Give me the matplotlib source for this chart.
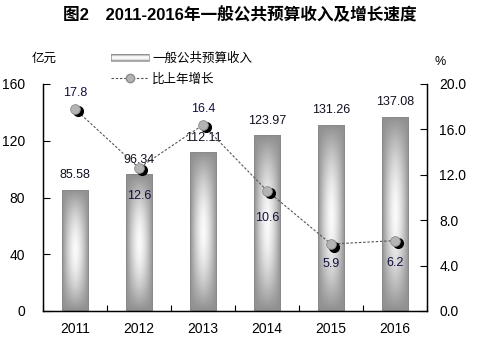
import numpy as np
import matplotlib
matplotlib.use("Agg")
import matplotlib.pyplot as plt
import matplotlib.transforms as mtransforms
from matplotlib.patches import Rectangle
from matplotlib.lines import Line2D
from matplotlib.legend_handler import HandlerBase

plt.rcParams['font.family'] = ['Liberation Sans', 'Noto Sans CJK SC', 'DejaVu Sans']

years = ['2011', '2012', '2013', '2014', '2015', '2016']
revenue = [85.58, 96.34, 112.11, 123.97, 131.26, 137.08]
growth = [17.8, 12.6, 16.4, 10.6, 5.9, 6.2]
left_ticks = [0, 40, 80, 120, 160]
right_ticks = [0.0, 4.0, 8.0, 12.0, 16.0, 20.0]
title = '图2　2011-2016年一般公共预算收入及增长速度'
bar_name = '一般公共预算收入'
line_name = '比上年增长'

# label placement (layout only): vertical offsets in points for growth labels
growth_label_offset = [7, -16, 7, -15, -10, -12]

fig = plt.figure(figsize=(4.8, 3.46), dpi=100)
ax = fig.add_axes([43/480, 1-311/346, 384/480, 227/346])
ax2 = ax.twinx()

x = np.arange(len(years))
bars = ax.bar(x, revenue, width=0.42, facecolor='none', edgecolor='#8a8a8a', linewidth=0.6, zorder=2)

# gradient fill
nx, ny = 64, 128
xx = np.linspace(-1, 1, nx)
yy = np.linspace(-1, 1, ny)
X, Y = np.meshgrid(xx, yy)
hx = np.clip(1 - np.abs(X)**1.6, 0, 1)
hy = np.clip(1 - np.abs(Y)**1.8, 0, 1)
V = 0.56 + 0.42 * hx * hy
for b in bars:
    x0, y0 = b.get_x(), b.get_y()
    w, h = b.get_width(), b.get_height()
    im = ax.imshow(V, cmap='gray', vmin=0, vmax=1, extent=[x0, x0+w, y0, y0+h],
                   aspect='auto', origin='lower', zorder=1, interpolation='bilinear')
    im.set_clip_path(b)

ax.set_xlim(-0.5, len(years)-0.5)
ax.set_ylim(0, 160)
ax2.set_ylim(0, 20)
ax.set_yticks(left_ticks)
ax.set_yticklabels([str(t) for t in left_ticks])
ax2.set_yticks(right_ticks)
ax2.set_yticklabels([f'{t:.1f}' for t in right_ticks])
ax.set_xticks(x)
ax.set_xticklabels(years)
ax.set_xticks(np.arange(len(years)+1) - 0.5, minor=True)

ax.tick_params(axis='y', direction='in', length=5, width=0.8, pad=13, labelsize=10, colors='black')
ax.tick_params(axis='x', which='major', length=0, pad=8, labelsize=10)
ax.tick_params(axis='x', which='minor', direction='in', length=4, width=0.8)
ax2.tick_params(axis='y', direction='in', length=5, width=0.8, pad=9, labelsize=10)
for a in (ax, ax2):
    a.spines['top'].set_visible(False)
    for s in ('left', 'right', 'bottom'):
        a.spines[s].set_linewidth(0.9)

ax.set_zorder(1)
ax2.set_zorder(2)
ax.patch.set_visible(False)

# bar labels
for xi, v in zip(x, revenue):
    ax.annotate(f'{v:.2f}', (xi, v), xytext=(0, 6), textcoords='offset points',
                ha='center', va='bottom', fontsize=9, color='#101020')

# growth line
ax2.plot(x, growth, color='#555555', linestyle=(0, (2.2, 1.6)), linewidth=0.8, zorder=3)
shadow = mtransforms.offset_copy(ax2.transData, fig=fig, x=2.5, y=-2.5, units='dots')
ax2.plot(x, growth, linestyle='none', marker='o', markersize=7, color='black',
         transform=shadow, zorder=4)
ax2.plot(x, growth, linestyle='none', marker='o', markersize=7, markerfacecolor='#b4b4b4',
         markeredgecolor='#8a8a8a', markeredgewidth=0.6, zorder=5)
for xi, g, off in zip(x, growth, growth_label_offset):
    va = 'bottom' if off > 0 else 'top'
    ax2.annotate(f'{g:.1f}', (xi, g), xytext=(0, off), textcoords='offset points',
                 ha='center', va=va, fontsize=9, color='#101040', zorder=6)

# title and units
fig.text(0.5, 1-15/346, title, ha='center', va='center', fontsize=12, fontweight='bold',
         family=['Liberation Sans', 'Noto Sans CJK SC'])
fig.text(44/480, 1-58/346, '亿元', ha='center', va='center', fontsize=9,
         family=['Noto Sans CJK SC'])
fig.text(440/480, 1-62/346, '%', ha='center', va='center', fontsize=9)

# legend
class GradHandler(HandlerBase):
    def create_artists(self, legend, orig_handle, xdescent, ydescent, width, height, fontsize, trans):
        arts = []
        hh = 5.0
        y0 = -ydescent + height/2 - hh/2
        n = 9
        for i in range(n):
            t = (i + 0.5) / n * 2 - 1
            c = 0.56 + 0.42 * (1 - abs(t)**1.8)
            r = Rectangle((-xdescent, y0 + i*hh/n), width, hh/n, facecolor=str(c),
                          edgecolor='none', transform=trans)
            arts.append(r)
        arts.append(Rectangle((-xdescent, y0), width, hh, facecolor='none',
                              edgecolor='#8a8a8a', linewidth=0.5, transform=trans))
        return arts

bar_handle = Rectangle((0, 0), 1, 1)
line_handle = Line2D([], [], color='#555555', linestyle=(0, (2.2, 1.6)), linewidth=0.8,
                     marker='o', markersize=6, markerfacecolor='#b4b4b4', markeredgecolor='#8a8a8a')
leg = fig.legend([bar_handle, line_handle], [bar_name, line_name],
                 handler_map={Rectangle: GradHandler()},
                 loc='upper left', bbox_to_anchor=(111/480, 1-52/346), frameon=False,
                 borderpad=0, borderaxespad=0, handlelength=3.0, handletextpad=0.3,
                 labelspacing=0.6, prop={'family': ['Noto Sans CJK SC'], 'size': 9})

fig.savefig('out.png', dpi=100)
